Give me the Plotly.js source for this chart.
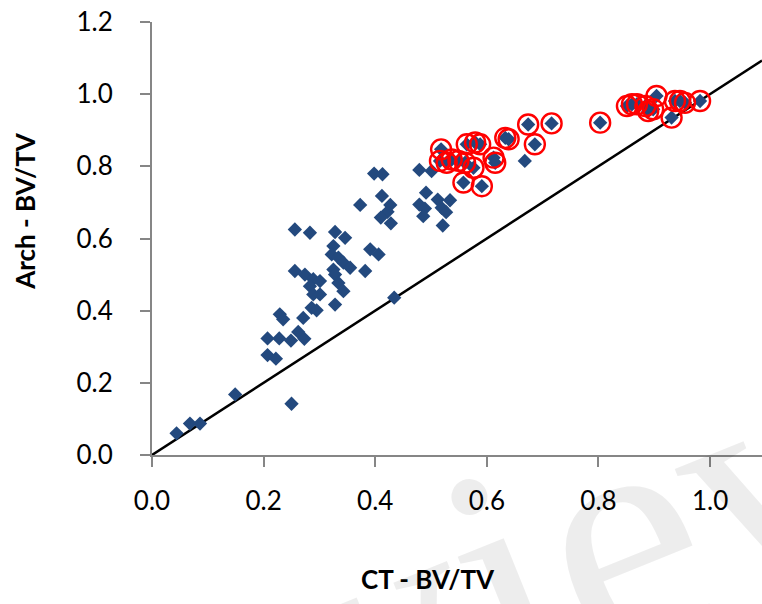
<!DOCTYPE html>
<html>
<head>
<meta charset="utf-8">
<script src="https://cdn.plot.ly/plotly-3.0.1.min.js"></script>
<style>html,body{margin:0;padding:0;background:#fff;}#chart{width:762px;height:604px;}</style>
</head>
<body>
<div id="chart"></div>
<script>
// Non-circled samples: CT BV/TV vs Arch BV/TV
const ctOther = [0.044,0.068,0.086,0.149,0.250,0.207,0.228,0.249,0.207,0.222,0.229,0.235,0.271,0.262,0.273,
  0.256,0.283,0.256,0.274,0.289,0.301,0.283,0.289,0.301,0.286,0.295,0.328,0.346,0.325,0.322,0.334,0.343,0.355,
  0.325,0.328,0.334,0.343,0.328,0.391,0.406,0.382,0.434,0.373,0.398,0.413,0.412,0.427,0.422,0.410,0.428,
  0.479,0.501,0.491,0.479,0.489,0.486,0.512,0.534,0.519,0.527,0.521,0.668];
const archOther = [0.060,0.087,0.087,0.168,0.142,0.323,0.323,0.317,0.277,0.267,0.390,0.376,0.380,0.341,0.322,
  0.625,0.616,0.510,0.500,0.487,0.482,0.468,0.445,0.445,0.408,0.401,0.618,0.602,0.579,0.556,0.547,0.533,0.519,
  0.514,0.500,0.477,0.454,0.417,0.570,0.556,0.510,0.436,0.693,0.780,0.778,0.718,0.693,0.674,0.658,0.642,
  0.790,0.787,0.727,0.694,0.683,0.662,0.708,0.706,0.685,0.673,0.636,0.815];
// Circled (highlighted) samples
const ctCircled = [0.518,0.516,0.528,0.537,0.549,0.561,0.564,0.579,0.588,0.576,0.558,0.591,0.612,0.615,0.633,
  0.639,0.674,0.686,0.716,0.803,0.851,0.860,0.869,0.884,0.889,0.904,0.898,0.931,0.937,0.946,0.955,0.982];
const archCircled = [0.847,0.815,0.810,0.819,0.815,0.810,0.861,0.866,0.861,0.796,0.755,0.745,0.824,0.810,0.879,
  0.875,0.916,0.861,0.919,0.921,0.967,0.972,0.972,0.967,0.953,0.995,0.958,0.935,0.981,0.981,0.976,0.981];
// Line of identity
const identityX = [0, 1.093];
const identityY = [0, 1.093];
const xTicks = [0, 0.2, 0.4, 0.6, 0.8, 1.0];
const yTicks = [0, 0.2, 0.4, 0.6, 0.8, 1.0, 1.2];

const blue = '#23497e';
const traces = [
  {x: identityX, y: identityY, mode: 'lines', line: {color: '#000', width: 2.5}, hoverinfo: 'skip'},
  {x: ctOther.concat(ctCircled), y: archOther.concat(archCircled), mode: 'markers',
   marker: {symbol: 'diamond', size: 11, color: blue, line: {width: 0}}},
  {x: ctCircled, y: archCircled, mode: 'markers',
   marker: {symbol: 'circle-open', size: 20, color: '#ff0000', line: {width: 2.4, color: '#ff0000'}}}
];
const axisFont = {family: 'Lato, "Open Sans", sans-serif', size: 26, color: '#000'};
const layout = {
  width: 762, height: 604,
  margin: {l: 152, r: 0, t: 22, b: 148.5, pad: 0},
  showlegend: false,
  paper_bgcolor: '#fff', plot_bgcolor: '#fff',
  xaxis: {range: [0, 1.093], tickvals: xTicks, tickformat: '.1f', showgrid: false, zeroline: false,
    showline: true, linecolor: '#868686', linewidth: 2, ticks: 'outside', ticklen: 10, tickwidth: 2,
    tickcolor: '#868686', tickfont: axisFont, ticklabelstandoff: 12},
  yaxis: {range: [0, 1.2], tickvals: yTicks, tickformat: '.1f', showgrid: false, zeroline: false,
    showline: true, linecolor: '#868686', linewidth: 2, ticks: 'outside', ticklen: 10, tickwidth: 2,
    tickcolor: '#868686', tickfont: axisFont, ticklabelstandoff: 22},
  annotations: [
    {text: 'Preview', xref: 'paper', yref: 'paper', x: 0.408, y: -0.391,
     xanchor: 'center', yanchor: 'middle', textangle: -22, showarrow: false,
     font: {family: '"Liberation Serif", "DejaVu Serif", serif', size: 340, color: 'rgba(0,0,0,0.07)'}},
    {text: '<b>CT - BV/TV</b>', xref: 'paper', yref: 'paper', x: (428 - 152) / 610, y: (455.5 - 580) / 433.5,
     xanchor: 'center', yanchor: 'middle', showarrow: false, font: {family: 'Lato, sans-serif', size: 26, color: '#000'}},
    {text: '<b>Arch - BV/TV</b>', xref: 'paper', yref: 'paper', x: (25 - 152) / 610, y: (455.5 - 211) / 433.5,
     xanchor: 'center', yanchor: 'middle', textangle: -90, showarrow: false, font: {family: 'Lato, sans-serif', size: 26, color: '#000'}}
  ]
};
Plotly.newPlot('chart', traces, layout, {displayModeBar: false, staticPlot: true});
</script>
</body>
</html>
